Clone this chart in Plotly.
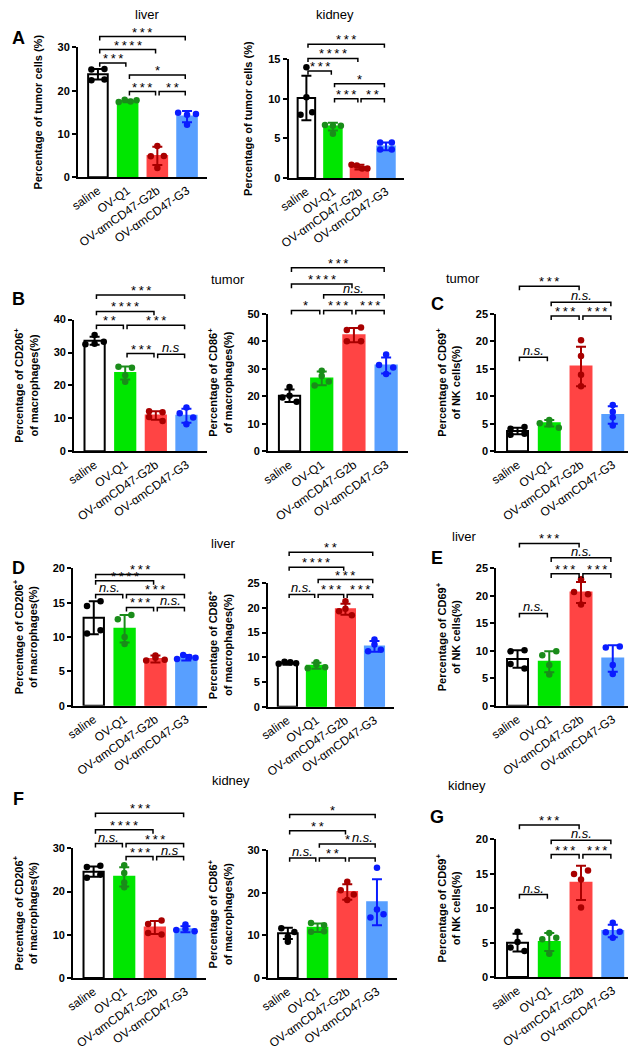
import plotly.graph_objects as go

W, H = 636, 1050          # browser window
OFF = 8                   # default page margin around the plot div
FW, FH = W - OFF, H - OFF  # figure size so that it fits the window exactly
FONT = "Liberation Sans"

groups = ["saline", "OV-Q1", "OV-αmCD47-G2b", "OV-αmCD47-G3"]
bar_fill = ["white", "#00e600", "#ff4444", "#589fff"]
bar_line = ["black", "#00e600", "#ff4444", "#589fff"]
dot_color = ["black", "#1a8c1a", "#a80000", "#0a1cff"]

# ---------------- data ----------------
a_liver_mean = [23.8, 17.6, 4.9, 14.0]
a_liver_sd = [1.2, 0.3, 2.1, 1.3]
a_liver_pts = [[24.9, 25.0, 22.4, 22.6], [17.4, 17.9, 17.5, 17.8], [7.2, 4.8, 4.9, 2.1], [14.9, 14.4, 14.6, 12.1]]
a_liver_sig = [(0, 3, 32.5, "***"), (0, 2, 29.5, "****"), (0, 1, 26.4, "***"), (1, 3, 23.6, "*"), (1, 2, 19.8, "***"), (2, 3, 19.8, "**")]

a_kidney_mean = [10.1, 6.5, 1.4, 4.0]
a_kidney_sd = [2.8, 0.5, 0.3, 0.5]
a_kidney_pts = [[14.0, 10.2, 8.0, 8.3], [6.7, 6.6, 6.6, 5.6], [1.7, 1.6, 1.2, 1.2], [4.5, 4.5, 3.6, 3.6]]
a_kidney_sig = [(0, 3, 16.9, "***"), (0, 2, 15.1, "****"), (0, 1, 13.5, "***"), (1, 3, 11.9, "*"), (1, 2, 10.0, "***"), (2, 3, 10.0, "**")]

b_cd206_mean = [33.6, 23.8, 10.9, 10.8]
b_cd206_sd = [1.2, 2.0, 1.3, 2.1]
b_cd206_pts = [[32.5, 35.3, 32.7, 33.3], [25.7, 25.4, 23.1, 21.1], [12.2, 11.9, 10.4, 9.2], [13.3, 11.6, 10.3, 8.2]]
b_cd206_sig = [(0, 3, 47.5, "***"), (0, 2, 42.5, "****"), (0, 1, 38.3, "**"), (1, 3, 38.3, "***"), (1, 2, 29.7, "***"), (2, 3, 29.5, "n.s")]

b_cd86_mean = [20.2, 26.5, 42.2, 31.2]
b_cd86_sd = [2.3, 2.5, 2.6, 2.9]
b_cd86_pts = [[23.4, 19.6, 20.2, 18.0], [27.4, 29.3, 23.9, 25.4], [44.1, 45.0, 40.0, 40.0], [35.2, 31.4, 30.5, 28.1]]
b_cd86_sig = [(0, 3, 66.7, "***"), (0, 2, 60.8, "****"), (1, 3, 56.9, "n.s."), (0, 1, 51.2, "*"), (1, 2, 51.2, "***"), (2, 3, 51.2, "***")]

c_cd69_mean = [3.7, 5.1, 15.4, 6.6]
c_cd69_sd = [0.6, 0.6, 3.6, 1.6]
c_cd69_pts = [[4.1, 4.4, 3.0, 3.2], [5.7, 5.1, 4.9, 4.3], [20.2, 17.3, 13.9, 11.8], [8.4, 7.2, 6.2, 4.7]]
c_cd69_sig = [(0, 2, 30.0, "***"), (1, 3, 27.1, "n.s."), (1, 2, 24.6, "***"), (2, 3, 24.6, "***"), (0, 1, 17.1, "n.s.")]

d_cd206_mean = [12.8, 11.2, 6.8, 7.0]
d_cd206_sd = [2.4, 2.0, 0.5, 0.4]
d_cd206_pts = [[14.5, 15.2, 10.5, 11.0], [12.6, 13.2, 10.0, 9.0], [6.6, 7.0, 7.3, 6.7], [6.8, 7.4, 7.1, 7.0]]
d_cd206_sig = [(0, 3, 19.1, "***"), (0, 2, 18.2, "****"), (0, 1, 16.2, "n.s."), (1, 3, 16.2, "***"), (1, 2, 14.3, "***"), (2, 3, 14.3, "n.s.")]

d_cd86_mean = [8.8, 8.3, 19.7, 12.2]
d_cd86_sd = [0.3, 0.6, 1.1, 1.1]
d_cd86_pts = [[8.7, 9.1, 9.0, 8.8], [7.8, 8.5, 9.0, 8.0], [21.3, 19.8, 19.3, 18.5], [12.6, 13.6, 11.2, 11.5]]
d_cd86_sig = [(0, 3, 31.2, "**"), (0, 2, 28.2, "****"), (1, 3, 25.7, "***"), (0, 1, 22.7, "n.s."), (1, 2, 22.7, "***"), (2, 3, 22.7, "***")]

e_cd69_mean = [8.5, 8.0, 20.6, 8.6]
e_cd69_sd = [1.6, 1.9, 1.9, 2.4]
e_cd69_pts = [[9.9, 10.1, 7.6, 6.8], [9.2, 9.9, 7.4, 5.7], [23.0, 20.7, 20.3, 18.4], [10.6, 10.8, 7.4, 5.8]]
e_cd69_sig = [(0, 2, 29.5, "***"), (1, 3, 26.9, "n.s."), (1, 2, 24.0, "***"), (2, 3, 24.0, "***"), (0, 1, 16.8, "n.s.")]

f_cd206_mean = [24.6, 23.4, 11.7, 11.3]
f_cd206_sd = [1.2, 2.2, 1.5, 0.7]
f_cd206_pts = [[25.7, 26.0, 23.2, 23.9], [26.1, 24.3, 22.1, 21.0], [12.5, 13.3, 10.4, 10.1], [11.1, 11.4, 12.4, 10.8]]
f_cd206_sig = [(0, 3, 38.1, "***"), (0, 2, 34.3, "****"), (0, 1, 31.1, "n.s."), (1, 3, 31.1, "***"), (1, 2, 28.1, "***"), (2, 3, 28.1, "n.s")]

f_cd86_mean = [10.5, 11.8, 20.2, 17.8]
f_cd86_sd = [1.3, 1.0, 1.8, 5.4]
f_cd86_pts = [[11.7, 10.8, 9.7, 8.5], [10.9, 12.9, 12.4, 11.0], [20.6, 22.6, 19.6, 18.3], [25.9, 16.1, 14.2, 15.0]]
f_cd86_sig = [(0, 3, 38.4, "*"), (0, 2, 34.6, "**"), (1, 3, 31.5, "*"), (0, 1, 28.2, "n.s."), (1, 2, 28.2, "**"), (2, 3, 28.2, "n.s.", 31.5)]

g_cd69_mean = [5.0, 5.1, 13.7, 6.7]
g_cd69_sd = [1.3, 1.3, 2.5, 0.9]
g_cd69_pts = [[6.6, 5.1, 4.3, 3.8], [5.5, 6.4, 5.7, 3.4], [15.0, 15.5, 14.2, 10.1], [6.5, 7.9, 6.6, 5.7]]
g_cd69_sig = [(0, 2, 22.1, "***"), (1, 3, 19.9, "n.s."), (1, 2, 17.8, "***"), (2, 3, 17.8, "***"), (0, 1, 12.0, "n.s.")]

t_tumor = "Percentage of tumor cells (%)"
t_cd206 = "Percentage of CD206<sup>+</sup><br>of macrophages(%)"
t_cd86 = "Percentage of CD86<sup>+</sup><br>of macrophages(%)"
t_cd69 = "Percentage of CD69<sup>+</sup><br>of NK cells(%)"

# panel layout boxes in window pixels: (x left, x right, y of 0, y of top tick)
panels = [
    dict(mean=a_liver_mean, sd=a_liver_sd, pts=a_liver_pts, sig=a_liver_sig, ymax=30, dtick=10, box=(69, 200, 174, 42), title=t_tumor),
    dict(mean=a_kidney_mean, sd=a_kidney_sd, pts=a_kidney_pts, sig=a_kidney_sig, ymax=15, dtick=5, box=(283, 400, 175, 54), title=t_tumor),
    dict(mean=b_cd206_mean, sd=b_cd206_sd, pts=b_cd206_pts, sig=b_cd206_sig, ymax=40, dtick=10, box=(65, 200, 453, 319), title=t_cd206),
    dict(mean=b_cd86_mean, sd=b_cd86_sd, pts=b_cd86_pts, sig=b_cd86_sig, ymax=50, dtick=10, box=(262, 404, 453, 313), title=t_cd86),
    dict(mean=c_cd69_mean, sd=c_cd69_sd, pts=c_cd69_pts, sig=c_cd69_sig, ymax=25, dtick=5, box=(494, 634, 453, 313), title=t_cd69),
    dict(mean=d_cd206_mean, sd=d_cd206_sd, pts=d_cd206_pts, sig=d_cd206_sig, ymax=20, dtick=5, box=(64, 200, 712, 572), title=t_cd206),
    dict(mean=d_cd86_mean, sd=d_cd86_sd, pts=d_cd86_pts, sig=d_cd86_sig, ymax=25, dtick=5, box=(262, 390, 713, 587), title=t_cd86),
    dict(mean=e_cd69_mean, sd=e_cd69_sd, pts=e_cd69_pts, sig=e_cd69_sig, ymax=25, dtick=5, box=(494, 634, 712, 572), title=t_cd69),
    dict(mean=f_cd206_mean, sd=f_cd206_sd, pts=f_cd206_pts, sig=f_cd206_sig, ymax=30, dtick=10, box=(64, 199, 989, 857), title=t_cd206),
    dict(mean=f_cd86_mean, sd=f_cd86_sd, pts=f_cd86_pts, sig=f_cd86_sig, ymax=30, dtick=10, box=(262, 393, 989, 859), title=t_cd86),
    dict(mean=g_cd69_mean, sd=g_cd69_sd, pts=g_cd69_pts, sig=g_cd69_sig, ymax=20, dtick=5, box=(494, 634, 988, 848), title=t_cd69),
]

# text labels: (text, x px, y px, size, bold)
labels = [
    ("A", 9, 32, 18, True), ("liver", 140, 8, 13, False), ("kidney", 330, 8, 13, False),
    ("B", 9, 298, 18, True), ("tumor", 221, 278, 13, False), ("tumor", 460, 277, 13, False), ("C", 434, 303, 18, True),
    ("D", 8, 572, 18, True), ("liver", 217, 547, 13, False), ("liver", 462, 540, 13, False), ("E", 434, 562, 18, True),
    ("F", 8, 807, 18, True), ("kidney", 224, 788, 13, False), ("kidney", 464, 793, 13, False), ("G", 434, 825, 18, True),
]

XR = [-0.67, 3.67]
BAR_W = 0.66


def px_x(p):
    return (p - OFF) / FW


def px_y(p):
    return 1 - (p - OFF) / FH


def spread(vals, thr):
    order = sorted(range(len(vals)), key=lambda i: vals[i])
    clusters = []
    for i in order:
        if clusters and vals[i] - vals[clusters[-1][0]] < thr:
            clusters[-1].append(i)
        else:
            clusters.append([i])
    offs = [0.0] * len(vals)
    for c in clusters:
        c = sorted(c)
        n = len(c)
        if n > 1:
            step = min(0.44, 0.6 / (n - 1))
            for r, i in enumerate(c):
                offs[i] = (r - (n - 1) / 2) * step
    return offs


fig = go.Figure()
layout = {}
annotations = []

for k, P in enumerate(panels, start=1):
    xl, xr, yb, yt = P["box"]
    sfx = "" if k == 1 else str(k)
    xa, ya = "x" + sfx, "y" + sfx
    yk = k + 20
    ybr = "y%d" % yk
    ymax = P["ymax"]
    ppu = (yb - yt) / ymax
    top_val = max(max(s[2] for s in P["sig"]) + 0.12 * ymax, ymax)
    top_px = max(yb - top_val * ppu, OFF)
    top_val = (yb - top_px) / ppu

    layout["xaxis" + sfx] = dict(
        domain=[px_x(xl), min(px_x(xr), 1)], range=XR, anchor=ya,
        tickmode="array", tickvals=[0, 1, 2, 3], ticktext=groups, tickangle=-35,
        showline=True, linecolor="black", linewidth=2, ticks="",
        showgrid=False, zeroline=False,
        tickfont=dict(family=FONT, size=12, color="black"),
    )
    layout["yaxis" + sfx] = dict(
        domain=[px_y(yb), px_y(yt)], range=[0, ymax], anchor=xa,
        tickmode="linear", tick0=0, dtick=P["dtick"],
        ticks="outside", ticklen=4, tickwidth=2, tickcolor="black",
        showline=True, linecolor="black", linewidth=2,
        showgrid=False, zeroline=False,
        tickfont=dict(family=FONT, size=11, color="black", weight="bold"),
        title=dict(text=P["title"], font=dict(family=FONT, size=11, color="black", weight="bold"), standoff=13),
    )
    layout["yaxis%d" % yk] = dict(
        domain=[px_y(yb), px_y(top_px)], range=[0, top_val], anchor=xa,
        visible=False, showgrid=False, zeroline=False,
    )

    # bars with SD error bars
    for i in range(4):
        fig.add_trace(go.Bar(
            x=[i], y=[P["mean"][i]], width=BAR_W, xaxis=xa, yaxis=ya,
            marker=dict(color=bar_fill[i], line=dict(color=bar_line[i], width=2)),
            error_y=dict(type="data", array=[P["sd"][i]], color=dot_color[i], thickness=2, width=5),
            showlegend=False, hoverinfo="skip",
        ))

    # individual points
    xs, ys, cs = [], [], []
    for i in range(4):
        offs = spread(P["pts"][i], 0.035 * ymax)
        for v, o in zip(P["pts"][i], offs):
            xs.append(i + o)
            ys.append(v)
            cs.append(dot_color[i])
    fig.add_trace(go.Scatter(
        x=xs, y=ys, mode="markers", xaxis=xa, yaxis=ya,
        marker=dict(color=cs, size=6.5, line=dict(width=0)),
        showlegend=False, hoverinfo="skip", cliponaxis=False,
    ))

    # significance brackets
    bx, by = [], []
    drop = 0.03 * ymax
    ins = 0.06
    for s in P["sig"]:
        i, j, h, lab = s[0], s[1], s[2], s[3]
        bx += [i + ins, i + ins, j - ins, j - ins, None]
        by += [h - drop, h, h, h - drop, None]
        ly = s[4] if len(s) > 4 else h
        if lab.startswith("n.s"):
            txt = "<i>%s</i>" % lab
            fnt = dict(family=FONT, size=13, color="black")
            ysh = -3
        else:
            txt = "\u2009".join(lab)
            fnt = dict(family=FONT, size=13, color="black")
            ysh = -5
        annotations.append(dict(
            x=(i + j) / 2, y=ly, xref=xa, yref=ybr, text=txt, showarrow=False,
            xanchor="center", yanchor="bottom", yshift=ysh, font=fnt,
        ))
    fig.add_trace(go.Scatter(
        x=bx, y=by, mode="lines", xaxis=xa, yaxis=ybr,
        line=dict(color="black", width=1.5), showlegend=False, hoverinfo="skip",
    ))

for txt, x, y, size, bold in labels:
    annotations.append(dict(
        x=px_x(x), y=px_y(y), xref="paper", yref="paper", text=txt, showarrow=False,
        xanchor="center", yanchor="middle",
        font=dict(family=FONT, size=size, color="black", weight="bold" if bold else "normal"),
    ))

fig.update_layout(layout)
fig.update_layout(
    width=FW, height=FH, margin=dict(l=0, r=0, t=0, b=0),
    paper_bgcolor="white", plot_bgcolor="rgba(0,0,0,0)",
    barmode="overlay", showlegend=False,
    annotations=annotations,
    font=dict(family=FONT, color="black"),
)

fig.write_html("out.html")
